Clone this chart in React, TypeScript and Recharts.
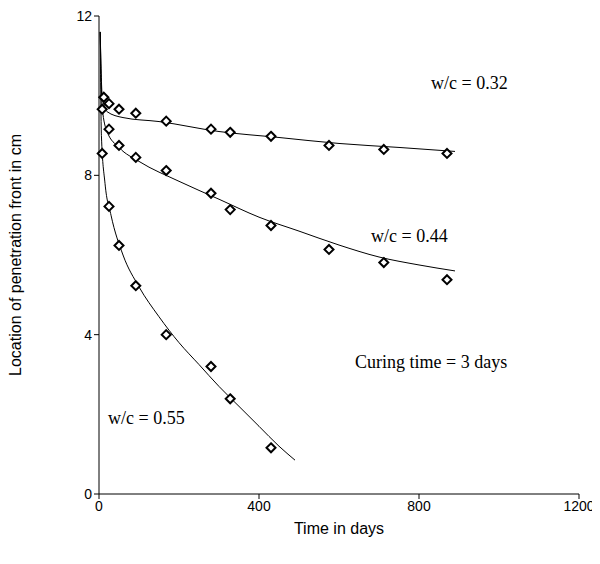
import { ComposedChart, Line, Scatter, XAxis, YAxis } from 'recharts';

const pts032 = [
  { x: 12, y: 9.96 }, { x: 25, y: 9.8 }, { x: 50, y: 9.66 }, { x: 92, y: 9.56 },
  { x: 168, y: 9.36 }, { x: 280, y: 9.16 }, { x: 328, y: 9.08 }, { x: 430, y: 8.98 },
  { x: 575, y: 8.75 }, { x: 712, y: 8.65 }, { x: 870, y: 8.55 },
];
const pts044 = [
  { x: 8, y: 9.66 }, { x: 25, y: 9.16 }, { x: 50, y: 8.75 }, { x: 92, y: 8.45 },
  { x: 168, y: 8.12 }, { x: 280, y: 7.55 }, { x: 328, y: 7.14 }, { x: 430, y: 6.74 },
  { x: 575, y: 6.14 }, { x: 712, y: 5.81 }, { x: 870, y: 5.38 },
];
const pts055 = [
  { x: 8, y: 8.55 }, { x: 25, y: 7.22 }, { x: 50, y: 6.24 }, { x: 92, y: 5.23 },
  { x: 168, y: 4.0 }, { x: 280, y: 3.2 }, { x: 328, y: 2.39 }, { x: 430, y: 1.16 },
];
const fit032 = [
  { x: 3, y: 11.6 }, { x: 8, y: 10.0 }, { x: 20, y: 9.6 }, { x: 60, y: 9.45 }, { x: 150, y: 9.35 },
  { x: 300, y: 9.1 }, { x: 450, y: 8.95 }, { x: 600, y: 8.8 }, { x: 750, y: 8.7 }, { x: 890, y: 8.6 },
];
const fit044 = [
  { x: 3, y: 11.6 }, { x: 8, y: 9.7 }, { x: 20, y: 9.1 }, { x: 50, y: 8.7 }, { x: 100, y: 8.35 },
  { x: 200, y: 7.85 }, { x: 300, y: 7.4 }, { x: 400, y: 6.95 }, { x: 500, y: 6.6 },
  { x: 600, y: 6.25 }, { x: 700, y: 5.95 }, { x: 800, y: 5.75 }, { x: 890, y: 5.6 },
];
const fit055 = [
  { x: 3, y: 11.6 }, { x: 6, y: 9.0 }, { x: 15, y: 7.8 }, { x: 30, y: 7.0 }, { x: 60, y: 6.0 },
  { x: 100, y: 5.2 }, { x: 150, y: 4.45 }, { x: 200, y: 3.8 }, { x: 250, y: 3.25 },
  { x: 300, y: 2.7 }, { x: 350, y: 2.2 }, { x: 400, y: 1.7 }, { x: 450, y: 1.2 }, { x: 490, y: 0.85 },
];
const xTicks = [0, 400, 800, 1200];
const yTicks = [0, 4, 8, 12];

const Diamond = (p: any) => {
  const { cx, cy } = p;
  const r = 4.5;
  return <path d={`M${cx},${cy - r}L${cx + r},${cy}L${cx},${cy + r}L${cx - r},${cy}Z`} fill="#fff" stroke="#000" strokeWidth={2} />;
};

const lbl: React.CSSProperties = { position: 'absolute', fontFamily: '"Liberation Serif", serif', fontSize: 18, color: '#000', whiteSpace: 'nowrap' };
const tick = { fontSize: 14, fill: '#000', fontFamily: '"Liberation Sans", Arial, sans-serif' };

export default function App() {
  return (
    <div style={{ position: 'relative', width: 600, height: 556 }}>
      <ComposedChart width={592} height={556} margin={{ top: 8, right: 21, bottom: 40, left: 5 }}>
        <XAxis type="number" dataKey="x" domain={[0, 1200]} ticks={xTicks} stroke="#000" tick={tick} tickSize={5}
          label={{ value: 'Time in days', position: 'insideBottom', offset: -10, style: { ...tick, fontSize: 16 } }} />
        <YAxis type="number" dataKey="y" domain={[0, 12]} ticks={yTicks} stroke="#000" tick={tick} tickSize={5} width={86}
          label={{ value: 'Location of penetration front in cm', angle: -90, position: 'insideLeft', offset: 2, style: { ...tick, fontSize: 16, textAnchor: 'middle' } }} />
        <Line data={fit032} dataKey="y" type="monotone" stroke="#000" strokeWidth={1} dot={false} isAnimationActive={false} />
        <Line data={fit044} dataKey="y" type="monotone" stroke="#000" strokeWidth={1} dot={false} isAnimationActive={false} />
        <Line data={fit055} dataKey="y" type="monotone" stroke="#000" strokeWidth={1} dot={false} isAnimationActive={false} />
        <Scatter data={pts032} shape={Diamond} isAnimationActive={false} />
        <Scatter data={pts044} shape={Diamond} isAnimationActive={false} />
        <Scatter data={pts055} shape={Diamond} isAnimationActive={false} />
      </ComposedChart>
      <div style={{ ...lbl, left: 423, top: 65 }}>w/c = 0.32</div>
      <div style={{ ...lbl, left: 363, top: 218 }}>w/c = 0.44</div>
      <div style={{ ...lbl, left: 347, top: 344 }}>Curing time = 3 days</div>
      <div style={{ ...lbl, left: 100, top: 400 }}>w/c = 0.55</div>
    </div>
  );
}
